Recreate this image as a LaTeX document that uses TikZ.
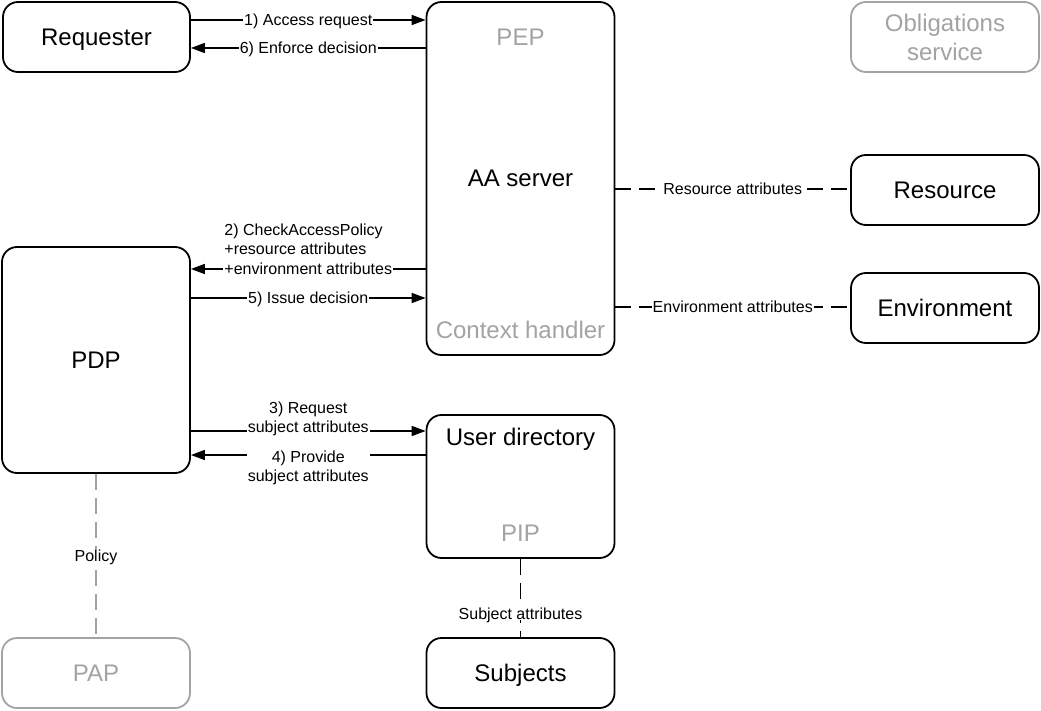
\documentclass[tikz,border=0pt]{standalone}
\usepackage{fontspec}
\setmainfont{Liberation Sans}
\usetikzlibrary{arrows.meta}
\definecolor{gry}{HTML}{A3A3A3}
\begin{document}
\begin{tikzpicture}[x=1pt,y=-1pt,
  box/.style={draw, line width=1.8pt, rounded corners=15pt, fill=white,
    inner sep=0pt, font=\fontsize{24}{28}\selectfont},
  bigc/.style={text height=17pt, text depth=0pt},
  smallc/.style={text height=11.5pt, text depth=0pt},
  gbox/.style={box, draw=gry, text=gry},
  inlbl/.style={inner sep=0pt, text=gry, font=\fontsize{24}{28}\selectfont, bigc},
  blbl/.style={inner sep=0pt, font=\fontsize{24}{28}\selectfont, bigc},
  lbl/.style={fill=white, inner sep=1pt, font=\fontsize{16}{20}\selectfont, smallc},
  mlbl/.style={fill=white, inner sep=1pt, font=\fontsize{16}{19.5}\selectfont},
  arr/.style={line width=1.6pt, -{Triangle[length=14pt,width=10pt]}},
  dline/.style={line width=1.6pt, dash pattern=on 16pt off 8pt},
  gdline/.style={dline, draw=gry}]
\useasboundingbox (0,0) rectangle (1041,711);

% boxes
\node[box, bigc, minimum width=187pt, minimum height=70pt] (Req) at (96.5,37) {Requester};
\node[box, minimum width=188pt, minimum height=353pt] (AA) at (520.5,178.5) {};
\node[blbl] (AAt) at (520.5,178) {AA server};
\node[inlbl] (PEP) at (520.5,37) {PEP};
\node[inlbl] (CH) at (520.5,330) {Context handler};
\node[gbox, minimum width=188pt, minimum height=70pt, align=center,
      font=\fontsize{24}{29}\selectfont] (Obl) at (945,37) {Obligations\\service};
\node[box, bigc, minimum width=188pt, minimum height=70pt] (Res) at (945,190) {Resource};
\node[box, bigc, minimum width=188pt, minimum height=70pt] (Env) at (945,308) {Environment};
\node[box, bigc, minimum width=188pt, minimum height=226pt] (PDP) at (96,360) {PDP};
\node[box, minimum width=188pt, minimum height=143pt] (UD) at (520.5,486.5) {};
\node[blbl] (UDt) at (520.5,437) {User directory};
\node[inlbl] (PIP) at (520.5,533) {PIP};
\node[gbox, bigc, minimum width=188pt, minimum height=70pt] (PAP) at (96,673) {PAP};
\node[box, bigc, minimum width=188pt, minimum height=70pt] (Subj) at (520.5,673) {Subjects};

% arrows
\draw[arr] (Req.east |- 0,20) -- node[lbl] {1) Access request} (AA.west |- 0,20);
\draw[arr] (AA.west |- 0,48) -- node[lbl] {6) Enforce decision} (Req.east |- 0,48);
\draw[arr] (AA.west |- 0,269) -- node[mlbl, align=left, yshift=20pt]
  {2) CheckAccessPolicy\\+resource attributes\\+environment attributes} (PDP.east |- 0,269);
\draw[arr] (PDP.east |- 0,298) -- node[lbl] {5) Issue decision} (AA.west |- 0,298);
\draw[arr] (PDP.east |- 0,431) -- node[mlbl, align=center, yshift=12pt]
  {3) Request\\subject attributes} (UD.west |- 0,431);
\draw[arr] (UD.west |- 0,455) -- node[mlbl, align=center, yshift=-13pt]
  {4) Provide\\subject attributes} (PDP.east |- 0,455);

% dashed links
\draw[dline] (AA.east |- 0,189) -- node[lbl] {Resource attributes} (Res.west |- 0,189);
\draw[dline] (AA.east |- 0,307) -- node[lbl] {Environment attributes} (Env.west |- 0,307);
\draw[gdline] (PDP.south) -- node[lbl] {Policy} (PAP.north);
\draw[dline] (UD.south) -- node[lbl, pos=0.7] {Subject attributes} (Subj.north);
\end{tikzpicture}
\end{document}
